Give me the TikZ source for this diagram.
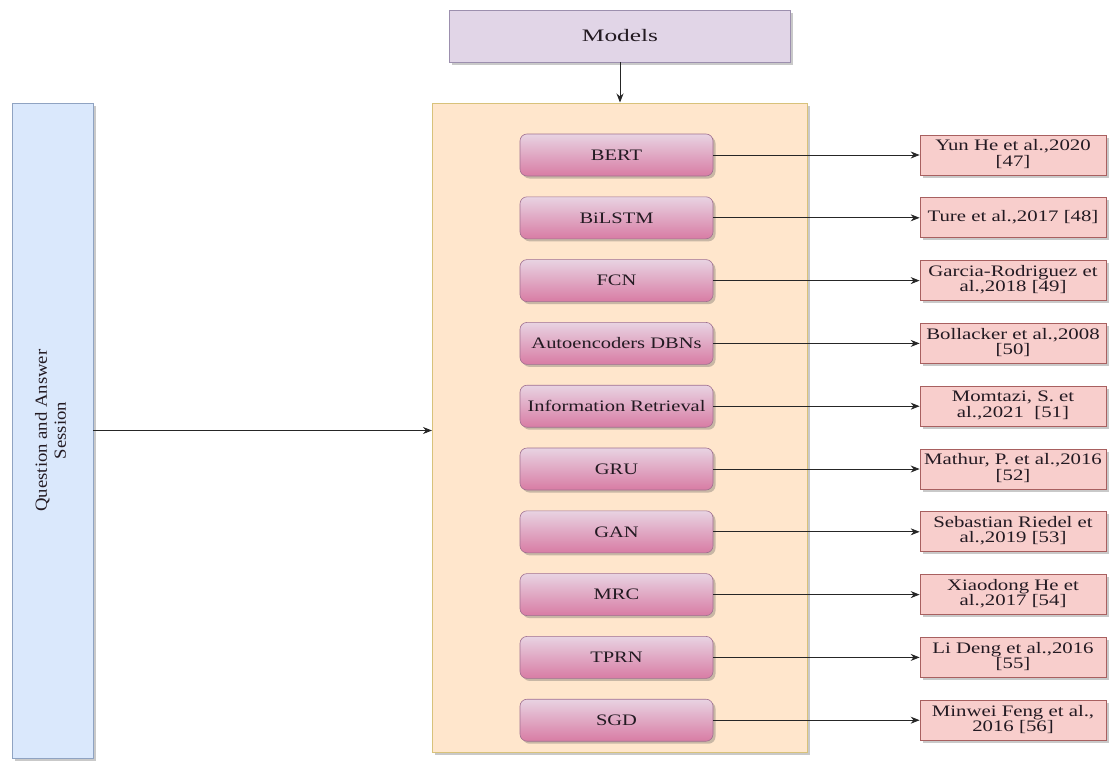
\documentclass[tikz,border=0pt]{standalone}
\usepackage{fontspec}
\setmainfont{Liberation Serif}
\usetikzlibrary{shadows,arrows.meta}
\definecolor{modfill}{HTML}{E1D5E7}
\definecolor{moddraw}{HTML}{9C8FAE}
\definecolor{contfill}{HTML}{FFE6CC}
\definecolor{contdraw}{HTML}{D8C27A}
\definecolor{qafill}{HTML}{DAE8FC}
\definecolor{qadraw}{HTML}{8FA3C2}
\definecolor{pinktop}{HTML}{E8D3E2}
\definecolor{pinkbot}{HTML}{D87CA4}
\definecolor{pinkdraw}{HTML}{A07090}
\definecolor{reffill}{HTML}{F8CECC}
\definecolor{refdraw}{HTML}{A86060}
\definecolor{txt}{HTML}{231A22}
\newcommand{\mlab}[1]{\scalebox{1.28}[1]{\fontsize{16}{16}\selectfont #1}}
\newcommand{\rlab}[1]{\scalebox{1.3}[1]{\fontsize{16}{14}\selectfont\begin{tabular}{@{}c@{}}#1\end{tabular}}}
\tikzset{
  shdw/.style={drop shadow={opacity=0.3, shadow xshift=2.5pt, shadow yshift=-2.5pt, fill=black!70}},
  modelsbox/.style={shdw, draw=moddraw, fill=modfill, line width=0.8pt, minimum width=341pt, minimum height=52pt, inner sep=0pt, text=txt},
  contbox/.style={shdw, draw=contdraw, fill=contfill, line width=1pt, minimum width=375pt, minimum height=649pt, inner sep=0pt},
  qabox/.style={shdw, draw=qadraw, fill=qafill, line width=0.8pt, minimum width=81pt, minimum height=655pt, inner sep=0pt, text=txt},
  modbox/.style={shdw, draw=pinkdraw, top color=pinktop, bottom color=pinkbot, rounded corners=7pt, line width=0.6pt, minimum width=193pt, minimum height=42pt, inner sep=0pt, text=txt},
  refbox/.style={shdw, draw=refdraw, fill=reffill, line width=0.7pt, minimum width=186pt, minimum height=40pt, inner sep=0pt, text=txt},
  arr/.style={draw=black!85, line width=0.9pt, -{Stealth[length=9pt,width=7pt]}}
}
\begin{document}
\begin{tikzpicture}[x=1pt,y=-1pt]
\useasboundingbox (0,0) rectangle (1112,763);
\node[modelsbox] (models) at (620,36) {\scalebox{1.45}[1]{\fontsize{17.5}{17.5}\selectfont Models}};
\node[contbox] (cont) at (620,427.5) {};
\node[qabox] (qa) at (52.5,430.5) {\rotatebox{90}{\scalebox{1.1}[1]{\fontsize{17}{19}\selectfont\begin{tabular}{@{}c@{}}Question and Answer\\Session\end{tabular}}}};

\node[modbox] (m1) at (616.5,155) {\mlab{BERT}};
\node[modbox] (m2) at (616.5,217.8) {\mlab{BiLSTM}};
\node[modbox] (m3) at (616.5,280.6) {\mlab{FCN}};
\node[modbox] (m4) at (616.5,343.4) {\mlab{Autoencoders DBNs}};
\node[modbox] (m5) at (616.5,406.2) {\mlab{Information Retrieval}};
\node[modbox] (m6) at (616.5,469.0) {\mlab{GRU}};
\node[modbox] (m7) at (616.5,531.8) {\mlab{GAN}};
\node[modbox] (m8) at (616.5,594.6) {\mlab{MRC}};
\node[modbox] (m9) at (616.5,657.4) {\mlab{TPRN}};
\node[modbox] (m10) at (616.5,720.2) {\mlab{SGD}};

\node[refbox] (r1) at (1013,155) {\rlab{Yun He et al.,2020\\{[47]}}};
\node[refbox] (r2) at (1013,217.8) {\rlab{Ture et al.,2017 [48]}};
\node[refbox] (r3) at (1013,280.6) {\rlab{Garcia-Rodriguez et\\al.,2018 [49]}};
\node[refbox] (r4) at (1013,343.4) {\rlab{Bollacker et al.,2008\\{[50]}}};
\node[refbox] (r5) at (1013,406.2) {\rlab{Momtazi, S. et\\al.,2021~~[51]}};
\node[refbox] (r6) at (1013,469.0) {\rlab{Mathur, P. et al.,2016\\{[52]}}};
\node[refbox] (r7) at (1013,531.8) {\rlab{Sebastian Riedel et\\al.,2019 [53]}};
\node[refbox] (r8) at (1013,594.6) {\rlab{Xiaodong He et\\al.,2017 [54]}};
\node[refbox] (r9) at (1013,657.4) {\rlab{Li Deng et al.,2016\\{[55]}}};
\node[refbox] (r10) at (1013,720.2) {\rlab{Minwei Feng et al.,\\2016 [56]}};

\draw[arr] (models) -- (cont);
\draw[arr] (qa.east) -- (qa.east -| cont.west);
\foreach \k in {1,...,10}{
  \draw[arr] (m\k) -- (r\k);
}
\end{tikzpicture}
\end{document}
